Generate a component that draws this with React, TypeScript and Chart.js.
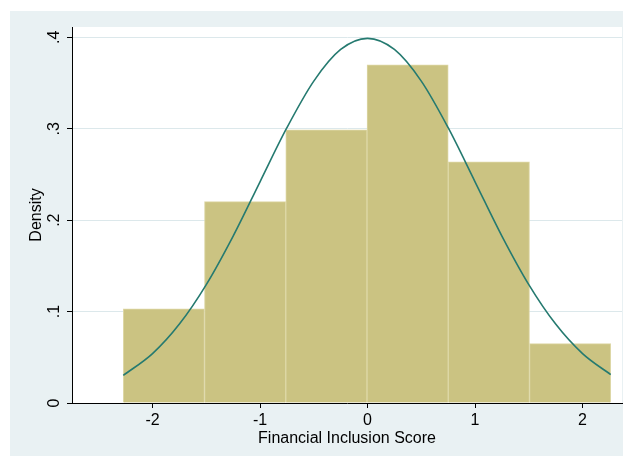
import React, { useEffect, useRef } from "react";
import { Chart, registerables } from "chart.js";

Chart.register(...registerables);

// Histogram bins (centers) and densities
const binCenters = [-1.894, -1.139, -0.383, 0.373, 1.129, 1.884];
const binDensity = [0.1031, 0.2203, 0.2987, 0.3698, 0.2637, 0.0649];

// Normal density overlay
const curveX = [-2.272, -2.0, -1.75, -1.5, -1.25, -1.0, -0.75, -0.5, -0.25, 0, 0.25, 0.5, 0.75, 1.0, 1.25, 1.5, 1.75, 2.0, 2.262];
const curveY = [0.0302, 0.054, 0.0863, 0.1295, 0.1826, 0.242, 0.3011, 0.3521, 0.3867, 0.3989, 0.3867, 0.3521, 0.3011, 0.242, 0.1826, 0.1295, 0.0863, 0.054, 0.031];

const xTicks = [-2, -1, 0, 1, 2];
const yTicks = [0, 0.1, 0.2, 0.3, 0.4];
const yTickLabels = ["0", ".1", ".2", ".3", ".4"];
const xTitle = "Financial Inclusion Score";
const yTitle = "Density";

const OUTER_BG = "#e9f1f3";
const GRID = "#dce8eb";
const BAR_FILL = "rgb(203,195,130)";
const BAR_EDGE = "rgb(221,215,165)";
const CURVE = "#257a70";
const FONT = "'Liberation Sans', Arial, sans-serif";

const bgPlugin = {
  id: "stataBg",
  beforeDraw(chart: any) {
    const { ctx, chartArea } = chart;
    ctx.save();
    ctx.fillStyle = "#ffffff";
    ctx.fillRect(0, 0, chart.width, chart.height);
    ctx.fillStyle = OUTER_BG;
    ctx.fillRect(10, 11, 613, 445);
    ctx.fillStyle = "#ffffff";
    ctx.fillRect(chartArea.left, chartArea.top, chartArea.right - chartArea.left, chartArea.bottom - chartArea.top);
    ctx.restore();
  },
};

export default function App() {
  const ref = useRef<HTMLCanvasElement | null>(null);

  useEffect(() => {
    if (!ref.current) return;
    const chart = new Chart(ref.current, {
      type: "bar",
      data: {
        datasets: [
          {
            type: "line",
            data: curveX.map((x, i) => ({ x, y: curveY[i] })),
            borderColor: CURVE,
            borderWidth: 1.6,
            pointRadius: 0,
            fill: false,
            cubicInterpolationMode: "monotone",
            order: 0,
          } as any,
          {
            type: "bar",
            data: binCenters.map((x, i) => ({ x, y: binDensity[i] })),
            backgroundColor: BAR_FILL,
            borderColor: BAR_EDGE,
            borderWidth: 1,
            barPercentage: 1,
            categoryPercentage: 1,
            order: 1,
          } as any,
        ],
      },
      options: {
        animation: false,
        responsive: false,
        devicePixelRatio: 1,
        layout: { padding: { left: 0, top: 27, right: 3, bottom: 0 } },
        plugins: { legend: { display: false }, tooltip: { enabled: false } },
        scales: {
          x: {
            type: "linear",
            min: -2.749,
            max: 2.367,
            offset: false,
            afterFit: (s: any) => { s.height = 54; },
            afterBuildTicks: (s: any) => { s.ticks = xTicks.map((v) => ({ value: v })); },
            grid: { offset: false, drawOnChartArea: false, tickLength: 5, tickColor: "#000", color: "#000" },
            border: { color: "#000", width: 1 },
            ticks: {
              padding: 3,
              color: "#000",
              font: { family: FONT, size: 16 },
              maxRotation: 0,
              callback: (v: any) => String(v),
            },
            title: {
              display: true,
              text: xTitle,
              color: "#000",
              font: { family: FONT, size: 16 },
              padding: { top: 0, bottom: 9 },
            },
          },
          y: {
            type: "linear",
            min: 0,
            max: 0.4113,
            afterFit: (s: any) => { s.width = 72; },
            afterBuildTicks: (s: any) => { s.ticks = yTicks.map((v) => ({ value: v })); },
            grid: { drawOnChartArea: true, color: GRID, lineWidth: 1, tickLength: 5, tickColor: "#000" },
            border: { color: "#000", width: 1 },
            ticks: {
              padding: 6,
              color: "#000",
              font: { family: FONT, size: 16 },
              minRotation: 90,
              maxRotation: 90,
              crossAlign: "center",
              callback: (v: any) => {
                const i = yTicks.findIndex((t) => Math.abs(t - v) < 1e-9);
                return i >= 0 ? yTickLabels[i] : null;
              },
            },
            title: {
              display: true,
              text: yTitle,
              color: "#000",
              font: { family: FONT, size: 16 },
              padding: { top: 27, bottom: 0 },
            },
          },
        },
      },
      plugins: [bgPlugin],
    } as any);
    return () => chart.destroy();
  }, []);

  return (
    <div style={{ position: "absolute", left: 0, top: 0, width: 625, height: 457 }}>
      <canvas ref={ref} width={625} height={457} style={{ display: "block" }} />
    </div>
  );
}
